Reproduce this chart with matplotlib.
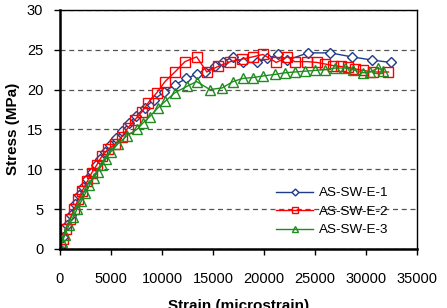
import matplotlib
matplotlib.use("Agg")
import matplotlib.pyplot as plt

plt.rcParams['font.family'] = ['Liberation Sans', 'DejaVu Sans']

# AS-SW-E-1
strain1 = [0, 300, 700, 1100, 1500, 1900, 2300, 2700, 3100, 3500, 3900, 4400, 4900, 5500,
           6100, 6800, 7500, 8300, 9200, 10200, 11300, 12400, 13400, 14200, 15200, 16000,
           17000, 17900, 19300, 20300, 21400, 22300, 24300, 26500, 28600, 30600, 32400]
stress1 = [0, 1.5, 3.0, 4.3, 5.6, 6.7, 7.8, 8.8, 9.7, 10.5, 11.3, 12.2, 13.0, 13.9,
           14.8, 15.8, 16.7, 17.7, 18.7, 19.7, 20.6, 21.4, 21.9, 22.2, 22.9, 23.5,
           24.1, 23.4, 23.4, 23.9, 24.4, 23.7, 24.6, 24.6, 24.1, 23.7, 23.4]

# AS-SW-E-2
strain2 = [0, 300, 600, 1000, 1400, 1800, 2200, 2700, 3100, 3600, 4100, 4700, 5400, 6080,
           6670, 7350, 8040, 8630, 9500, 10300, 11270, 12250, 13400, 14400, 15500, 16700,
           17800, 18900, 19900, 21200, 22300, 23000, 24200, 25200, 26000, 26800, 27500,
           28200, 28900, 29700, 30700, 32200]
stress2 = [0, 1.3, 2.5, 3.8, 5.0, 6.2, 7.3, 8.5, 9.5, 10.5, 11.6, 12.5, 13.1, 14.1,
           15.2, 16.2, 17.2, 18.3, 19.6, 21.0, 22.2, 23.5, 24.1, 22.2, 22.9, 23.5,
           23.8, 24.1, 24.4, 23.4, 24.1, 23.5, 23.5, 23.4, 23.2, 23.0, 22.9,
           22.8, 22.6, 22.4, 22.2, 22.2]

# AS-SW-E-3
strain3 = [0, 200, 500, 900, 1300, 1700, 2100, 2500, 2900, 3300, 3700, 4100, 4500, 5000,
           5700, 6570, 7550, 8140, 8800, 9600, 10300, 11270, 12450, 13400, 14700, 15900,
           16960, 17940, 18900, 19900, 21080, 22060, 23000, 24000, 25000, 26000, 27000,
           27940, 28700, 29700, 30400, 31200, 31700]
stress3 = [0, 0.8, 1.8, 3.0, 4.0, 5.0, 6.0, 7.0, 8.0, 8.9, 9.7, 10.5, 11.3, 12.2,
           13.2, 14.2, 15.0, 15.8, 16.6, 17.7, 18.5, 19.6, 20.4, 21.0, 20.0, 20.2,
           21.0, 21.4, 21.5, 21.7, 21.9, 22.1, 22.2, 22.3, 22.4, 22.5, 22.7,
           22.7, 22.5, 22.1, 22.2, 22.7, 22.3]

labels = ["AS-SW-E-1", "AS-SW-E-2", "AS-SW-E-3"]

fig = plt.figure(figsize=(4.47, 3.08), dpi=100)
ax = fig.add_axes([0.134, 0.192, 0.799, 0.776])

ax.plot(strain1, stress1, color="#1f3c88", lw=1, marker="D", ms=5, mfc="white",
        mec="#1f3c88", mew=1, label=labels[0])
ax.plot(strain2, stress2, color="#ff0000", lw=1, marker="s", ms=7, mfc="none",
        mec="#ff0000", mew=1, label=labels[1])
ax.plot(strain3, stress3, color="#1e8c1e", lw=1, marker="^", ms=7, mfc="none",
        mec="#1e8c1e", mew=1, label=labels[2])

ax.set_xlim(0, 35000)
ax.set_ylim(0, 30)
ax.set_xticks(range(0, 35001, 5000))
ax.set_yticks(range(0, 31, 5))
ax.yaxis.grid(True, ls="--", color="#555555", lw=0.9, dashes=(4, 3))
ax.set_axisbelow(True)

for s in ["left", "bottom"]:
    ax.spines[s].set_linewidth(1.8)
for s in ["top", "right"]:
    ax.spines[s].set_linewidth(1.0)
ax.tick_params(axis="x", labelsize=10.5, direction="out", length=4, width=1, pad=13)
ax.tick_params(axis="y", labelsize=10.5, direction="out", length=4, width=1, pad=8)

ax.set_xlabel("Strain (microstrain)", fontsize=11, fontweight="bold", labelpad=9)
ax.set_ylabel("Stress (MPa)", fontsize=11, fontweight="bold", labelpad=5)

ax.legend(loc="lower right", frameon=False, fontsize=9.7, handlelength=2.8,
          handletextpad=0.4, labelspacing=0.45, markerscale=0.7,
          borderaxespad=0, bbox_to_anchor=(0.935, 0.03))

fig.savefig("out.png", dpi=100)
